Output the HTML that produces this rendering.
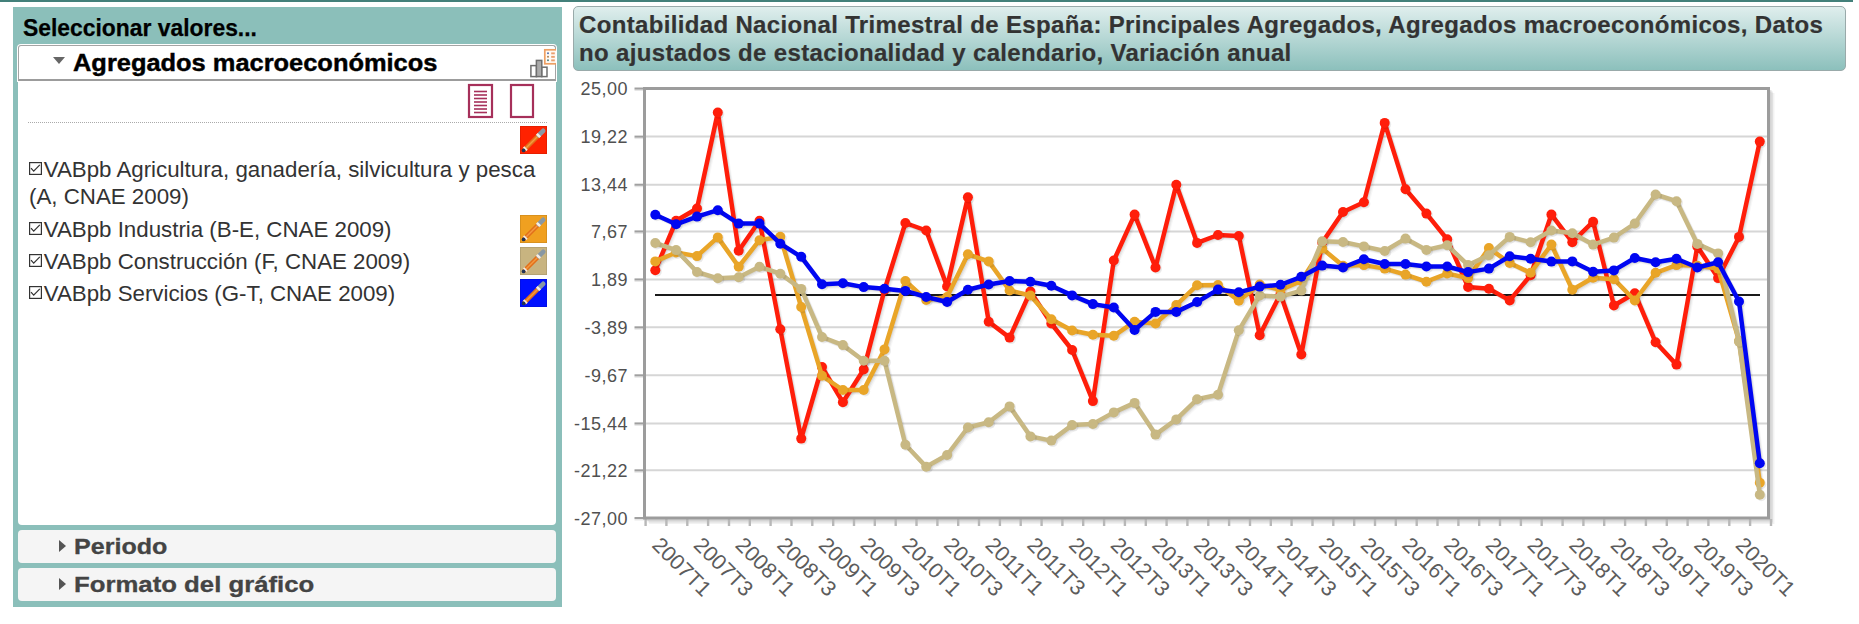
<!DOCTYPE html>
<html><head><meta charset="utf-8">
<style>
*{margin:0;padding:0;box-sizing:border-box}
html,body{width:1859px;height:624px;overflow:hidden;background:#fff;font-family:"Liberation Sans",sans-serif}
.a{position:absolute}
.item{position:absolute;left:29px;font-size:22.3px;color:#333;line-height:27px;white-space:nowrap;text-indent:14.7px}
.cb{position:absolute;left:0;top:5.5px;width:13px;height:13px}
.pen{position:absolute;left:520px;width:27px;height:28px}
.acc{position:absolute;left:18px;width:538px;height:33px;background:#f5f5f5;border-radius:4px}
.acc span{position:absolute;left:56px;top:4px;font-size:22px;font-weight:bold;color:#444;white-space:nowrap;transform-origin:0 0;-webkit-text-stroke:0.3px #444}
.tri{position:absolute;left:40.8px;top:10px;width:0;height:0;border-top:6px solid transparent;border-bottom:6px solid transparent;border-left:7px solid #555}
</style></head><body>
<div class="a" style="left:0;top:0;width:1853px;height:2px;background:#43807a"></div>
<div class="a" style="left:13px;top:7px;width:549px;height:600px;background:#8bbfba"></div>
<div class="a" style="left:23.2px;top:13.7px;font-size:24px;font-weight:bold;color:#000;white-space:nowrap;transform:scaleX(0.953);transform-origin:0 0;-webkit-text-stroke:0.25px #000">Seleccionar valores...</div>
<div class="a" style="left:18px;top:45px;width:538px;height:479.5px;background:#fff;border-radius:0 0 4px 4px"></div>
<div class="a" style="left:18px;top:45px;width:538px;height:36px;background:#fff;border:1px solid #a4a4a4;border-bottom:2px solid #9c9c9c;border-radius:3px 3px 0 0;box-shadow:0 0 0 1px #fff"></div>
<div class="a" style="left:53px;top:57px;width:0;height:0;border-left:6px solid transparent;border-right:6px solid transparent;border-top:7px solid #666"></div>
<div class="a" style="left:73px;top:50px;font-size:23px;font-weight:bold;color:#000;white-space:nowrap;transform:scaleX(1.105);transform-origin:0 0;-webkit-text-stroke:0.4px #000">Agregados macroeconómicos</div>
<svg class="a" style="left:525px;top:44px" width="30.6" height="36" viewBox="0 0 30.6 36">
<rect x="5.9" y="21.6" width="5.6" height="11" fill="#fff" stroke="#6e6e6e" stroke-width="1.5"/>
<rect x="16.6" y="23.2" width="5.4" height="9.4" fill="#fff" stroke="#6e6e6e" stroke-width="1.5"/>
<rect x="11.4" y="16.4" width="5.4" height="16.2" fill="#ababab" stroke="#6e6e6e" stroke-width="1.5"/>
<rect x="19.8" y="5.8" width="14" height="14" fill="#fffaf4" stroke="#eea064" stroke-width="1.7"/>
<circle cx="23" cy="9.3" r="1" fill="#5070b0"/><rect x="26.2" y="8.4" width="3.6" height="1.9" fill="#eaa070"/>
<circle cx="23" cy="12.8" r="1" fill="#b08050"/><rect x="26.2" y="11.9" width="3.6" height="1.9" fill="#eaa070"/>
<circle cx="23" cy="16.3" r="1" fill="#508080"/><rect x="26.2" y="15.4" width="3.6" height="1.9" fill="#eaa070"/>
</svg>
<svg class="a" style="left:467px;top:83px" width="70" height="37" viewBox="0 0 70 37">
<rect x="2" y="2" width="23" height="32" fill="#fff" stroke="#a6305a" stroke-width="2.2"/>
<g stroke="#a6305a" stroke-width="1.6">
<line x1="7" y1="8.5" x2="20" y2="8.5"/><line x1="7" y1="12" x2="20" y2="12"/><line x1="7" y1="15.5" x2="20" y2="15.5"/>
<line x1="7" y1="19" x2="20" y2="19"/><line x1="7" y1="22.5" x2="20" y2="22.5"/><line x1="7" y1="26" x2="20" y2="26"/><line x1="7" y1="29.5" x2="20" y2="29.5"/>
</g>
<rect x="44" y="2" width="22" height="32" fill="#fff" stroke="#a6305a" stroke-width="2.2"/>
</svg>
<div class="a" style="left:28px;top:122px;width:519px;height:0;border-top:1px dotted #aaa"></div>
<div class="pen" style="top:126px"><svg width="27" height="28" viewBox="0 0 27 28"><rect width="27" height="28" fill="#ff2200"/>
<rect x="0.4" y="0.4" width="26.2" height="27.2" fill="none" stroke="rgba(0,0,0,0.12)" stroke-width="0.8"/>
<path d="M4 24 L19 9" stroke="#e2701a" stroke-width="4.4"/>
<path d="M5 23 L18 10" stroke="#f49a40" stroke-width="1.4"/>
<path d="M18.8 9.2 L23.2 4.8" stroke="#8898a4" stroke-width="4.6" stroke-linecap="round"/>
<path d="M17.6 10.4 L19.4 8.6" stroke="#f6eee4" stroke-width="4.8"/>
<path d="M4.6 23.4 L6 22" stroke="#f6eee4" stroke-width="4.8"/>
<circle cx="3.6" cy="24.4" r="1.9" fill="#223355"/>
</svg></div>
<div class="item" style="top:156px;width:520px;white-space:normal"><svg class="cb" width="13" height="13" viewBox="0 0 13 13"><rect x="0.6" y="0.6" width="11.8" height="11.8" fill="none" stroke="#333" stroke-width="1.2"/><path d="M2 6.2 L4.7 9.2 L10.8 2.9" fill="none" stroke="#333" stroke-width="1.2"/></svg>VABpb Agricultura, ganadería, silvicultura y pesca (A, CNAE 2009)</div>
<div class="item" style="top:216px"><svg class="cb" width="13" height="13" viewBox="0 0 13 13"><rect x="0.6" y="0.6" width="11.8" height="11.8" fill="none" stroke="#333" stroke-width="1.2"/><path d="M2 6.2 L4.7 9.2 L10.8 2.9" fill="none" stroke="#333" stroke-width="1.2"/></svg>VABpb Industria (B-E, CNAE 2009)</div>
<div class="pen" style="top:215px"><svg width="27" height="28" viewBox="0 0 27 28"><rect width="27" height="28" fill="#f0a020"/>
<rect x="0.4" y="0.4" width="26.2" height="27.2" fill="none" stroke="rgba(0,0,0,0.12)" stroke-width="0.8"/>
<path d="M4 24 L19 9" stroke="#e2701a" stroke-width="4.4"/>
<path d="M5 23 L18 10" stroke="#f49a40" stroke-width="1.4"/>
<path d="M18.8 9.2 L23.2 4.8" stroke="#8898a4" stroke-width="4.6" stroke-linecap="round"/>
<path d="M17.6 10.4 L19.4 8.6" stroke="#f6eee4" stroke-width="4.8"/>
<path d="M4.6 23.4 L6 22" stroke="#f6eee4" stroke-width="4.8"/>
<circle cx="3.6" cy="24.4" r="1.9" fill="#223355"/>
</svg></div>
<div class="item" style="top:248px"><svg class="cb" width="13" height="13" viewBox="0 0 13 13"><rect x="0.6" y="0.6" width="11.8" height="11.8" fill="none" stroke="#333" stroke-width="1.2"/><path d="M2 6.2 L4.7 9.2 L10.8 2.9" fill="none" stroke="#333" stroke-width="1.2"/></svg>VABpb Construcción (F, CNAE 2009)</div>
<div class="pen" style="top:247px"><svg width="27" height="28" viewBox="0 0 27 28"><rect width="27" height="28" fill="#c8b480"/>
<rect x="0.4" y="0.4" width="26.2" height="27.2" fill="none" stroke="rgba(0,0,0,0.12)" stroke-width="0.8"/>
<path d="M4 24 L19 9" stroke="#e2701a" stroke-width="4.4"/>
<path d="M5 23 L18 10" stroke="#f49a40" stroke-width="1.4"/>
<path d="M18.8 9.2 L23.2 4.8" stroke="#8898a4" stroke-width="4.6" stroke-linecap="round"/>
<path d="M17.6 10.4 L19.4 8.6" stroke="#f6eee4" stroke-width="4.8"/>
<path d="M4.6 23.4 L6 22" stroke="#f6eee4" stroke-width="4.8"/>
<circle cx="3.6" cy="24.4" r="1.9" fill="#223355"/>
</svg></div>
<div class="item" style="top:280px"><svg class="cb" width="13" height="13" viewBox="0 0 13 13"><rect x="0.6" y="0.6" width="11.8" height="11.8" fill="none" stroke="#333" stroke-width="1.2"/><path d="M2 6.2 L4.7 9.2 L10.8 2.9" fill="none" stroke="#333" stroke-width="1.2"/></svg>VABpb Servicios (G-T, CNAE 2009)</div>
<div class="pen" style="top:279px"><svg width="27" height="28" viewBox="0 0 27 28"><rect width="27" height="28" fill="#0010ff"/>
<rect x="0.4" y="0.4" width="26.2" height="27.2" fill="none" stroke="rgba(0,0,0,0.12)" stroke-width="0.8"/>
<path d="M4 24 L19 9" stroke="#e2701a" stroke-width="4.4"/>
<path d="M5 23 L18 10" stroke="#f49a40" stroke-width="1.4"/>
<path d="M18.8 9.2 L23.2 4.8" stroke="#8898a4" stroke-width="4.6" stroke-linecap="round"/>
<path d="M17.6 10.4 L19.4 8.6" stroke="#f6eee4" stroke-width="4.8"/>
<path d="M4.6 23.4 L6 22" stroke="#f6eee4" stroke-width="4.8"/>
<circle cx="3.6" cy="24.4" r="1.9" fill="#223355"/>
</svg></div>
<div class="acc" style="top:530px"><div class="tri"></div><span style="transform:scaleX(1.14)">Periodo</span></div>
<div class="acc" style="top:568px"><div class="tri"></div><span style="transform:scaleX(1.17)">Formato del gráfico</span></div>
<div class="a" style="left:573px;top:6px;width:1273px;height:64.5px;border:1px solid #9aa;border-radius:5px;background:linear-gradient(#dfeeed,#8cc0bc)"></div>
<div class="a" style="left:579px;top:10.8px;font-size:24px;font-weight:bold;color:#333;line-height:28.4px;letter-spacing:0.34px;white-space:nowrap;-webkit-text-stroke:0.2px #333">Contabilidad Nacional Trimestral de España: Principales Agregados, Agregados macroeconómicos, Datos<br>no ajustados de estacionalidad y calendario, Variación anual</div>
<svg class="a" style="left:0;top:0" width="1859" height="624" font-family="Liberation Sans, sans-serif">
<polyline points="646.0,519.5 1770.0,519.5 1770.0,90.0" fill="none" stroke="rgba(0,0,0,0.1)" stroke-width="3"/>
<polyline points="647.5,521.0 1771.5,521.0 1771.5,91.5" fill="none" stroke="rgba(0,0,0,0.07)" stroke-width="3"/>
<polyline points="649.0,522.5 1773.0,522.5 1773.0,93.0" fill="none" stroke="rgba(0,0,0,0.05)" stroke-width="3"/>
<line x1="634.5" y1="90.0" x2="644.5" y2="90.0" stroke="#e6e6e6" stroke-width="2"/>
<line x1="634.5" y1="88.5" x2="644.5" y2="88.5" stroke="#a0a0a0" stroke-width="2"/>
<text x="628" y="95.0" text-anchor="end" font-size="18" letter-spacing="0.5" fill="#505050">25,00</text>
<line x1="644.5" y1="136.6" x2="1768.5" y2="136.6" stroke="#d6d6d6" stroke-width="2"/>
<line x1="634.5" y1="138.1" x2="644.5" y2="138.1" stroke="#e6e6e6" stroke-width="2"/>
<line x1="634.5" y1="136.6" x2="644.5" y2="136.6" stroke="#a0a0a0" stroke-width="2"/>
<text x="628" y="143.1" text-anchor="end" font-size="18" letter-spacing="0.5" fill="#505050">19,22</text>
<line x1="644.5" y1="184.7" x2="1768.5" y2="184.7" stroke="#d6d6d6" stroke-width="2"/>
<line x1="634.5" y1="186.2" x2="644.5" y2="186.2" stroke="#e6e6e6" stroke-width="2"/>
<line x1="634.5" y1="184.7" x2="644.5" y2="184.7" stroke="#a0a0a0" stroke-width="2"/>
<text x="628" y="191.2" text-anchor="end" font-size="18" letter-spacing="0.5" fill="#505050">13,44</text>
<line x1="644.5" y1="231.4" x2="1768.5" y2="231.4" stroke="#d6d6d6" stroke-width="2"/>
<line x1="634.5" y1="232.9" x2="644.5" y2="232.9" stroke="#e6e6e6" stroke-width="2"/>
<line x1="634.5" y1="231.4" x2="644.5" y2="231.4" stroke="#a0a0a0" stroke-width="2"/>
<text x="628" y="237.9" text-anchor="end" font-size="18" letter-spacing="0.5" fill="#505050">7,67</text>
<line x1="644.5" y1="279.4" x2="1768.5" y2="279.4" stroke="#d6d6d6" stroke-width="2"/>
<line x1="634.5" y1="280.9" x2="644.5" y2="280.9" stroke="#e6e6e6" stroke-width="2"/>
<line x1="634.5" y1="279.4" x2="644.5" y2="279.4" stroke="#a0a0a0" stroke-width="2"/>
<text x="628" y="285.9" text-anchor="end" font-size="18" letter-spacing="0.5" fill="#505050">1,89</text>
<line x1="644.5" y1="327.3" x2="1768.5" y2="327.3" stroke="#d6d6d6" stroke-width="2"/>
<line x1="634.5" y1="328.8" x2="644.5" y2="328.8" stroke="#e6e6e6" stroke-width="2"/>
<line x1="634.5" y1="327.3" x2="644.5" y2="327.3" stroke="#a0a0a0" stroke-width="2"/>
<text x="628" y="333.8" text-anchor="end" font-size="18" letter-spacing="0.5" fill="#505050">-3,89</text>
<line x1="644.5" y1="375.3" x2="1768.5" y2="375.3" stroke="#d6d6d6" stroke-width="2"/>
<line x1="634.5" y1="376.8" x2="644.5" y2="376.8" stroke="#e6e6e6" stroke-width="2"/>
<line x1="634.5" y1="375.3" x2="644.5" y2="375.3" stroke="#a0a0a0" stroke-width="2"/>
<text x="628" y="381.8" text-anchor="end" font-size="18" letter-spacing="0.5" fill="#505050">-9,67</text>
<line x1="644.5" y1="423.4" x2="1768.5" y2="423.4" stroke="#d6d6d6" stroke-width="2"/>
<line x1="634.5" y1="424.9" x2="644.5" y2="424.9" stroke="#e6e6e6" stroke-width="2"/>
<line x1="634.5" y1="423.4" x2="644.5" y2="423.4" stroke="#a0a0a0" stroke-width="2"/>
<text x="628" y="429.9" text-anchor="end" font-size="18" letter-spacing="0.5" fill="#505050">-15,44</text>
<line x1="644.5" y1="470.3" x2="1768.5" y2="470.3" stroke="#d6d6d6" stroke-width="2"/>
<line x1="634.5" y1="471.8" x2="644.5" y2="471.8" stroke="#e6e6e6" stroke-width="2"/>
<line x1="634.5" y1="470.3" x2="644.5" y2="470.3" stroke="#a0a0a0" stroke-width="2"/>
<text x="628" y="476.8" text-anchor="end" font-size="18" letter-spacing="0.5" fill="#505050">-21,22</text>
<line x1="634.5" y1="519.5" x2="644.5" y2="519.5" stroke="#e6e6e6" stroke-width="2"/>
<line x1="634.5" y1="518.0" x2="644.5" y2="518.0" stroke="#a0a0a0" stroke-width="2"/>
<text x="628" y="524.5" text-anchor="end" font-size="18" letter-spacing="0.5" fill="#505050">-27,00</text>
<line x1="645.6" y1="519" x2="645.6" y2="526" stroke="#b8b8b8" stroke-width="2.4"/>
<line x1="666.4" y1="519" x2="666.4" y2="526" stroke="#b8b8b8" stroke-width="2.4"/>
<line x1="687.3" y1="519" x2="687.3" y2="526" stroke="#b8b8b8" stroke-width="2.4"/>
<line x1="708.1" y1="519" x2="708.1" y2="526" stroke="#b8b8b8" stroke-width="2.4"/>
<line x1="729.0" y1="519" x2="729.0" y2="526" stroke="#b8b8b8" stroke-width="2.4"/>
<line x1="749.8" y1="519" x2="749.8" y2="526" stroke="#b8b8b8" stroke-width="2.4"/>
<line x1="770.6" y1="519" x2="770.6" y2="526" stroke="#b8b8b8" stroke-width="2.4"/>
<line x1="791.5" y1="519" x2="791.5" y2="526" stroke="#b8b8b8" stroke-width="2.4"/>
<line x1="812.3" y1="519" x2="812.3" y2="526" stroke="#b8b8b8" stroke-width="2.4"/>
<line x1="833.2" y1="519" x2="833.2" y2="526" stroke="#b8b8b8" stroke-width="2.4"/>
<line x1="854.0" y1="519" x2="854.0" y2="526" stroke="#b8b8b8" stroke-width="2.4"/>
<line x1="874.8" y1="519" x2="874.8" y2="526" stroke="#b8b8b8" stroke-width="2.4"/>
<line x1="895.7" y1="519" x2="895.7" y2="526" stroke="#b8b8b8" stroke-width="2.4"/>
<line x1="916.5" y1="519" x2="916.5" y2="526" stroke="#b8b8b8" stroke-width="2.4"/>
<line x1="937.4" y1="519" x2="937.4" y2="526" stroke="#b8b8b8" stroke-width="2.4"/>
<line x1="958.2" y1="519" x2="958.2" y2="526" stroke="#b8b8b8" stroke-width="2.4"/>
<line x1="979.0" y1="519" x2="979.0" y2="526" stroke="#b8b8b8" stroke-width="2.4"/>
<line x1="999.9" y1="519" x2="999.9" y2="526" stroke="#b8b8b8" stroke-width="2.4"/>
<line x1="1020.7" y1="519" x2="1020.7" y2="526" stroke="#b8b8b8" stroke-width="2.4"/>
<line x1="1041.6" y1="519" x2="1041.6" y2="526" stroke="#b8b8b8" stroke-width="2.4"/>
<line x1="1062.4" y1="519" x2="1062.4" y2="526" stroke="#b8b8b8" stroke-width="2.4"/>
<line x1="1083.2" y1="519" x2="1083.2" y2="526" stroke="#b8b8b8" stroke-width="2.4"/>
<line x1="1104.1" y1="519" x2="1104.1" y2="526" stroke="#b8b8b8" stroke-width="2.4"/>
<line x1="1124.9" y1="519" x2="1124.9" y2="526" stroke="#b8b8b8" stroke-width="2.4"/>
<line x1="1145.8" y1="519" x2="1145.8" y2="526" stroke="#b8b8b8" stroke-width="2.4"/>
<line x1="1166.6" y1="519" x2="1166.6" y2="526" stroke="#b8b8b8" stroke-width="2.4"/>
<line x1="1187.4" y1="519" x2="1187.4" y2="526" stroke="#b8b8b8" stroke-width="2.4"/>
<line x1="1208.3" y1="519" x2="1208.3" y2="526" stroke="#b8b8b8" stroke-width="2.4"/>
<line x1="1229.1" y1="519" x2="1229.1" y2="526" stroke="#b8b8b8" stroke-width="2.4"/>
<line x1="1250.0" y1="519" x2="1250.0" y2="526" stroke="#b8b8b8" stroke-width="2.4"/>
<line x1="1270.8" y1="519" x2="1270.8" y2="526" stroke="#b8b8b8" stroke-width="2.4"/>
<line x1="1291.6" y1="519" x2="1291.6" y2="526" stroke="#b8b8b8" stroke-width="2.4"/>
<line x1="1312.5" y1="519" x2="1312.5" y2="526" stroke="#b8b8b8" stroke-width="2.4"/>
<line x1="1333.3" y1="519" x2="1333.3" y2="526" stroke="#b8b8b8" stroke-width="2.4"/>
<line x1="1354.2" y1="519" x2="1354.2" y2="526" stroke="#b8b8b8" stroke-width="2.4"/>
<line x1="1375.0" y1="519" x2="1375.0" y2="526" stroke="#b8b8b8" stroke-width="2.4"/>
<line x1="1395.8" y1="519" x2="1395.8" y2="526" stroke="#b8b8b8" stroke-width="2.4"/>
<line x1="1416.7" y1="519" x2="1416.7" y2="526" stroke="#b8b8b8" stroke-width="2.4"/>
<line x1="1437.5" y1="519" x2="1437.5" y2="526" stroke="#b8b8b8" stroke-width="2.4"/>
<line x1="1458.4" y1="519" x2="1458.4" y2="526" stroke="#b8b8b8" stroke-width="2.4"/>
<line x1="1479.2" y1="519" x2="1479.2" y2="526" stroke="#b8b8b8" stroke-width="2.4"/>
<line x1="1500.0" y1="519" x2="1500.0" y2="526" stroke="#b8b8b8" stroke-width="2.4"/>
<line x1="1520.9" y1="519" x2="1520.9" y2="526" stroke="#b8b8b8" stroke-width="2.4"/>
<line x1="1541.7" y1="519" x2="1541.7" y2="526" stroke="#b8b8b8" stroke-width="2.4"/>
<line x1="1562.6" y1="519" x2="1562.6" y2="526" stroke="#b8b8b8" stroke-width="2.4"/>
<line x1="1583.4" y1="519" x2="1583.4" y2="526" stroke="#b8b8b8" stroke-width="2.4"/>
<line x1="1604.2" y1="519" x2="1604.2" y2="526" stroke="#b8b8b8" stroke-width="2.4"/>
<line x1="1625.1" y1="519" x2="1625.1" y2="526" stroke="#b8b8b8" stroke-width="2.4"/>
<line x1="1645.9" y1="519" x2="1645.9" y2="526" stroke="#b8b8b8" stroke-width="2.4"/>
<line x1="1666.8" y1="519" x2="1666.8" y2="526" stroke="#b8b8b8" stroke-width="2.4"/>
<line x1="1687.6" y1="519" x2="1687.6" y2="526" stroke="#b8b8b8" stroke-width="2.4"/>
<line x1="1708.4" y1="519" x2="1708.4" y2="526" stroke="#b8b8b8" stroke-width="2.4"/>
<line x1="1729.3" y1="519" x2="1729.3" y2="526" stroke="#b8b8b8" stroke-width="2.4"/>
<line x1="1750.1" y1="519" x2="1750.1" y2="526" stroke="#b8b8b8" stroke-width="2.4"/>
<line x1="1771.0" y1="519" x2="1771.0" y2="526" stroke="#b8b8b8" stroke-width="2.4"/>
<rect x="644.5" y="88.5" width="1124.0" height="429.5" fill="none" stroke="#9c9c9c" stroke-width="3"/>
<line x1="655" y1="295.0" x2="1760" y2="295.0" stroke="#1a1a1a" stroke-width="2"/>
<polyline points="656.3,271.2 677.1,221.8 698.0,209.5 718.8,113.5 739.7,251.8 760.5,221.8 781.3,330.3 802.2,439.6 823.0,368.0 843.9,403.3 864.7,370.5 885.5,291.0 906.4,224.0 927.2,231.5 948.1,287.5 968.9,198.2 989.7,322.7 1010.6,338.6 1031.4,292.5 1052.3,324.5 1073.1,351.0 1093.9,402.1 1114.8,261.5 1135.6,215.6 1156.5,268.5 1177.3,185.7 1198.1,243.9 1219.0,236.0 1239.8,237.0 1260.7,336.2 1281.5,295.0 1302.3,355.5 1323.2,243.5 1344.0,213.0 1364.9,203.3 1385.7,123.9 1406.5,190.2 1427.4,214.6 1448.2,240.3 1469.1,288.0 1489.9,289.7 1510.7,301.4 1531.6,276.3 1552.4,215.6 1573.3,243.2 1594.1,222.7 1614.9,306.5 1635.8,294.3 1656.6,343.3 1677.5,365.6 1698.3,247.4 1719.1,279.1 1740.0,237.9 1760.8,142.6" fill="none" stroke="rgba(0,0,0,0.07)" stroke-width="4" stroke-linejoin="round"/>
<polyline points="657.3,272.2 678.1,222.8 699.0,210.5 719.8,114.5 740.7,252.8 761.5,222.8 782.3,331.3 803.2,440.6 824.0,369.0 844.9,404.3 865.7,371.5 886.5,292.0 907.4,225.0 928.2,232.5 949.1,288.5 969.9,199.2 990.7,323.7 1011.6,339.6 1032.4,293.5 1053.3,325.5 1074.1,352.0 1094.9,403.1 1115.8,262.5 1136.6,216.6 1157.5,269.5 1178.3,186.7 1199.1,244.9 1220.0,237.0 1240.8,238.0 1261.7,337.2 1282.5,296.0 1303.3,356.5 1324.2,244.5 1345.0,214.0 1365.9,204.3 1386.7,124.9 1407.5,191.2 1428.4,215.6 1449.2,241.3 1470.1,289.0 1490.9,290.7 1511.7,302.4 1532.6,277.3 1553.4,216.6 1574.3,244.2 1595.1,223.7 1615.9,307.5 1636.8,295.3 1657.6,344.3 1678.5,366.6 1699.3,248.4 1720.1,280.1 1741.0,238.9 1761.8,143.6" fill="none" stroke="rgba(0,0,0,0.05)" stroke-width="4" stroke-linejoin="round"/>
<polyline points="658.3,273.2 679.1,223.8 700.0,211.5 720.8,115.5 741.7,253.8 762.5,223.8 783.3,332.3 804.2,441.6 825.0,370.0 845.9,405.3 866.7,372.5 887.5,293.0 908.4,226.0 929.2,233.5 950.1,289.5 970.9,200.2 991.7,324.7 1012.6,340.6 1033.4,294.5 1054.3,326.5 1075.1,353.0 1095.9,404.1 1116.8,263.5 1137.6,217.6 1158.5,270.5 1179.3,187.7 1200.1,245.9 1221.0,238.0 1241.8,239.0 1262.7,338.2 1283.5,297.0 1304.3,357.5 1325.2,245.5 1346.0,215.0 1366.9,205.3 1387.7,125.9 1408.5,192.2 1429.4,216.6 1450.2,242.3 1471.1,290.0 1491.9,291.7 1512.7,303.4 1533.6,278.3 1554.4,217.6 1575.3,245.2 1596.1,224.7 1616.9,308.5 1637.8,296.3 1658.6,345.3 1679.5,367.6 1700.3,249.4 1721.1,281.1 1742.0,239.9 1762.8,144.6" fill="none" stroke="rgba(0,0,0,0.03)" stroke-width="4" stroke-linejoin="round"/>
<polyline points="656.3,262.4 677.1,253.5 698.0,257.1 718.8,238.4 739.7,267.7 760.5,241.2 781.3,237.7 802.2,308.0 823.0,376.8 843.9,391.0 864.7,391.0 885.5,350.4 906.4,282.0 927.2,301.0 948.1,298.0 968.9,255.3 989.7,262.4 1010.6,291.5 1031.4,296.5 1052.3,320.3 1073.1,331.5 1093.9,335.8 1114.8,336.8 1135.6,322.7 1156.5,324.5 1177.3,306.1 1198.1,286.2 1219.0,286.0 1239.8,301.8 1260.7,285.5 1281.5,291.0 1302.3,282.0 1323.2,249.5 1344.0,266.8 1364.9,266.1 1385.7,269.6 1406.5,275.6 1427.4,282.7 1448.2,274.5 1469.1,279.1 1489.9,249.1 1510.7,264.0 1531.6,273.8 1552.4,245.6 1573.3,290.8 1594.1,278.8 1614.9,280.2 1635.8,301.5 1656.6,273.8 1677.5,266.1 1698.3,266.8 1719.1,269.6 1740.0,342.0 1760.8,483.7" fill="none" stroke="rgba(0,0,0,0.07)" stroke-width="4" stroke-linejoin="round"/>
<polyline points="657.3,263.4 678.1,254.5 699.0,258.1 719.8,239.4 740.7,268.7 761.5,242.2 782.3,238.7 803.2,309.0 824.0,377.8 844.9,392.0 865.7,392.0 886.5,351.4 907.4,283.0 928.2,302.0 949.1,299.0 969.9,256.3 990.7,263.4 1011.6,292.5 1032.4,297.5 1053.3,321.3 1074.1,332.5 1094.9,336.8 1115.8,337.8 1136.6,323.7 1157.5,325.5 1178.3,307.1 1199.1,287.2 1220.0,287.0 1240.8,302.8 1261.7,286.5 1282.5,292.0 1303.3,283.0 1324.2,250.5 1345.0,267.8 1365.9,267.1 1386.7,270.6 1407.5,276.6 1428.4,283.7 1449.2,275.5 1470.1,280.1 1490.9,250.1 1511.7,265.0 1532.6,274.8 1553.4,246.6 1574.3,291.8 1595.1,279.8 1615.9,281.2 1636.8,302.5 1657.6,274.8 1678.5,267.1 1699.3,267.8 1720.1,270.6 1741.0,343.0 1761.8,484.7" fill="none" stroke="rgba(0,0,0,0.05)" stroke-width="4" stroke-linejoin="round"/>
<polyline points="658.3,264.4 679.1,255.5 700.0,259.1 720.8,240.4 741.7,269.7 762.5,243.2 783.3,239.7 804.2,310.0 825.0,378.8 845.9,393.0 866.7,393.0 887.5,352.4 908.4,284.0 929.2,303.0 950.1,300.0 970.9,257.3 991.7,264.4 1012.6,293.5 1033.4,298.5 1054.3,322.3 1075.1,333.5 1095.9,337.8 1116.8,338.8 1137.6,324.7 1158.5,326.5 1179.3,308.1 1200.1,288.2 1221.0,288.0 1241.8,303.8 1262.7,287.5 1283.5,293.0 1304.3,284.0 1325.2,251.5 1346.0,268.8 1366.9,268.1 1387.7,271.6 1408.5,277.6 1429.4,284.7 1450.2,276.5 1471.1,281.1 1491.9,251.1 1512.7,266.0 1533.6,275.8 1554.4,247.6 1575.3,292.8 1596.1,280.8 1616.9,282.2 1637.8,303.5 1658.6,275.8 1679.5,268.1 1700.3,268.8 1721.1,271.6 1742.0,344.0 1762.8,485.7" fill="none" stroke="rgba(0,0,0,0.03)" stroke-width="4" stroke-linejoin="round"/>
<polyline points="656.3,244.0 677.1,251.1 698.0,273.0 718.8,279.3 739.7,278.2 760.5,267.7 781.3,274.7 802.2,289.9 823.0,338.0 843.9,346.1 864.7,361.7 885.5,361.7 906.4,445.7 927.2,467.8 948.1,456.0 968.9,428.5 989.7,423.3 1010.6,407.4 1031.4,437.4 1052.3,441.6 1073.1,426.1 1093.9,425.0 1114.8,413.4 1135.6,403.9 1156.5,435.6 1177.3,420.4 1198.1,400.3 1219.0,395.7 1239.8,331.3 1260.7,296.5 1281.5,297.7 1302.3,291.6 1323.2,242.2 1344.0,243.0 1364.9,247.4 1385.7,252.0 1406.5,239.6 1427.4,250.9 1448.2,246.3 1469.1,266.1 1489.9,256.2 1510.7,237.9 1531.6,243.2 1552.4,231.5 1573.3,234.3 1594.1,245.6 1614.9,238.6 1635.8,224.5 1656.6,195.5 1677.5,202.2 1698.3,244.9 1719.1,254.4 1740.0,342.6 1760.8,495.7" fill="none" stroke="rgba(0,0,0,0.07)" stroke-width="4" stroke-linejoin="round"/>
<polyline points="657.3,245.0 678.1,252.1 699.0,274.0 719.8,280.3 740.7,279.2 761.5,268.7 782.3,275.7 803.2,290.9 824.0,339.0 844.9,347.1 865.7,362.7 886.5,362.7 907.4,446.7 928.2,468.8 949.1,457.0 969.9,429.5 990.7,424.3 1011.6,408.4 1032.4,438.4 1053.3,442.6 1074.1,427.1 1094.9,426.0 1115.8,414.4 1136.6,404.9 1157.5,436.6 1178.3,421.4 1199.1,401.3 1220.0,396.7 1240.8,332.3 1261.7,297.5 1282.5,298.7 1303.3,292.6 1324.2,243.2 1345.0,244.0 1365.9,248.4 1386.7,253.0 1407.5,240.6 1428.4,251.9 1449.2,247.3 1470.1,267.1 1490.9,257.2 1511.7,238.9 1532.6,244.2 1553.4,232.5 1574.3,235.3 1595.1,246.6 1615.9,239.6 1636.8,225.5 1657.6,196.5 1678.5,203.2 1699.3,245.9 1720.1,255.4 1741.0,343.6 1761.8,496.7" fill="none" stroke="rgba(0,0,0,0.05)" stroke-width="4" stroke-linejoin="round"/>
<polyline points="658.3,246.0 679.1,253.1 700.0,275.0 720.8,281.3 741.7,280.2 762.5,269.7 783.3,276.7 804.2,291.9 825.0,340.0 845.9,348.1 866.7,363.7 887.5,363.7 908.4,447.7 929.2,469.8 950.1,458.0 970.9,430.5 991.7,425.3 1012.6,409.4 1033.4,439.4 1054.3,443.6 1075.1,428.1 1095.9,427.0 1116.8,415.4 1137.6,405.9 1158.5,437.6 1179.3,422.4 1200.1,402.3 1221.0,397.7 1241.8,333.3 1262.7,298.5 1283.5,299.7 1304.3,293.6 1325.2,244.2 1346.0,245.0 1366.9,249.4 1387.7,254.0 1408.5,241.6 1429.4,252.9 1450.2,248.3 1471.1,268.1 1491.9,258.2 1512.7,239.9 1533.6,245.2 1554.4,233.5 1575.3,236.3 1596.1,247.6 1616.9,240.6 1637.8,226.5 1658.6,197.5 1679.5,204.2 1700.3,246.9 1721.1,256.4 1742.0,344.6 1762.8,497.7" fill="none" stroke="rgba(0,0,0,0.03)" stroke-width="4" stroke-linejoin="round"/>
<polyline points="656.3,215.8 677.1,225.3 698.0,217.6 718.8,211.2 739.7,224.6 760.5,224.6 781.3,244.7 802.2,257.8 823.0,285.3 843.9,284.3 864.7,288.1 885.5,289.8 906.4,291.9 927.2,298.0 948.1,303.0 968.9,290.8 989.7,285.5 1010.6,282.0 1031.4,282.7 1052.3,286.8 1073.1,296.4 1093.9,305.1 1114.8,308.5 1135.6,331.0 1156.5,312.9 1177.3,312.9 1198.1,303.0 1219.0,290.6 1239.8,293.3 1260.7,287.6 1281.5,285.8 1302.3,277.8 1323.2,266.6 1344.0,268.5 1364.9,260.2 1385.7,265.0 1406.5,265.0 1427.4,267.5 1448.2,267.5 1469.1,273.1 1489.9,269.6 1510.7,257.3 1531.6,259.7 1552.4,262.6 1573.3,262.4 1594.1,272.8 1614.9,271.4 1635.8,259.0 1656.6,263.3 1677.5,259.7 1698.3,268.5 1719.1,263.3 1740.0,302.5 1760.8,464.3" fill="none" stroke="rgba(0,0,0,0.07)" stroke-width="4" stroke-linejoin="round"/>
<polyline points="657.3,216.8 678.1,226.3 699.0,218.6 719.8,212.2 740.7,225.6 761.5,225.6 782.3,245.7 803.2,258.8 824.0,286.3 844.9,285.3 865.7,289.1 886.5,290.8 907.4,292.9 928.2,299.0 949.1,304.0 969.9,291.8 990.7,286.5 1011.6,283.0 1032.4,283.7 1053.3,287.8 1074.1,297.4 1094.9,306.1 1115.8,309.5 1136.6,332.0 1157.5,313.9 1178.3,313.9 1199.1,304.0 1220.0,291.6 1240.8,294.3 1261.7,288.6 1282.5,286.8 1303.3,278.8 1324.2,267.6 1345.0,269.5 1365.9,261.2 1386.7,266.0 1407.5,266.0 1428.4,268.5 1449.2,268.5 1470.1,274.1 1490.9,270.6 1511.7,258.3 1532.6,260.7 1553.4,263.6 1574.3,263.4 1595.1,273.8 1615.9,272.4 1636.8,260.0 1657.6,264.3 1678.5,260.7 1699.3,269.5 1720.1,264.3 1741.0,303.5 1761.8,465.3" fill="none" stroke="rgba(0,0,0,0.05)" stroke-width="4" stroke-linejoin="round"/>
<polyline points="658.3,217.8 679.1,227.3 700.0,219.6 720.8,213.2 741.7,226.6 762.5,226.6 783.3,246.7 804.2,259.8 825.0,287.3 845.9,286.3 866.7,290.1 887.5,291.8 908.4,293.9 929.2,300.0 950.1,305.0 970.9,292.8 991.7,287.5 1012.6,284.0 1033.4,284.7 1054.3,288.8 1075.1,298.4 1095.9,307.1 1116.8,310.5 1137.6,333.0 1158.5,314.9 1179.3,314.9 1200.1,305.0 1221.0,292.6 1241.8,295.3 1262.7,289.6 1283.5,287.8 1304.3,279.8 1325.2,268.6 1346.0,270.5 1366.9,262.2 1387.7,267.0 1408.5,267.0 1429.4,269.5 1450.2,269.5 1471.1,275.1 1491.9,271.6 1512.7,259.3 1533.6,261.7 1554.4,264.6 1575.3,264.4 1596.1,274.8 1616.9,273.4 1637.8,261.0 1658.6,265.3 1679.5,261.7 1700.3,270.5 1721.1,265.3 1742.0,304.5 1762.8,466.3" fill="none" stroke="rgba(0,0,0,0.03)" stroke-width="4" stroke-linejoin="round"/>
<polyline points="655.3,270.2 676.1,220.8 697.0,208.5 717.8,112.5 738.7,250.8 759.5,220.8 780.3,329.3 801.2,438.6 822.0,367.0 842.9,402.3 863.7,369.5 884.5,290.0 905.4,223.0 926.2,230.5 947.1,286.5 967.9,197.2 988.7,321.7 1009.6,337.6 1030.4,291.5 1051.3,323.5 1072.1,350.0 1092.9,401.1 1113.8,260.5 1134.6,214.6 1155.5,267.5 1176.3,184.7 1197.1,242.9 1218.0,235.0 1238.8,236.0 1259.7,335.2 1280.5,294.0 1301.3,354.5 1322.2,242.5 1343.0,212.0 1363.9,202.3 1384.7,122.9 1405.5,189.2 1426.4,213.6 1447.2,239.3 1468.1,287.0 1488.9,288.7 1509.7,300.4 1530.6,275.3 1551.4,214.6 1572.3,242.2 1593.1,221.7 1613.9,305.5 1634.8,293.3 1655.6,342.3 1676.5,364.6 1697.3,246.4 1718.1,278.1 1739.0,236.9 1759.8,141.6" fill="none" stroke="#ff1e0a" stroke-width="4.5" stroke-linejoin="round"/>
<circle cx="656.8" cy="271.7" r="5" fill="rgba(0,0,0,0.08)"/>
<circle cx="655.3" cy="270.2" r="5" fill="#ff1e0a"/>
<circle cx="677.6" cy="222.3" r="5" fill="rgba(0,0,0,0.08)"/>
<circle cx="676.1" cy="220.8" r="5" fill="#ff1e0a"/>
<circle cx="698.5" cy="210.0" r="5" fill="rgba(0,0,0,0.08)"/>
<circle cx="697.0" cy="208.5" r="5" fill="#ff1e0a"/>
<circle cx="719.3" cy="114.0" r="5" fill="rgba(0,0,0,0.08)"/>
<circle cx="717.8" cy="112.5" r="5" fill="#ff1e0a"/>
<circle cx="740.2" cy="252.3" r="5" fill="rgba(0,0,0,0.08)"/>
<circle cx="738.7" cy="250.8" r="5" fill="#ff1e0a"/>
<circle cx="761.0" cy="222.3" r="5" fill="rgba(0,0,0,0.08)"/>
<circle cx="759.5" cy="220.8" r="5" fill="#ff1e0a"/>
<circle cx="781.8" cy="330.8" r="5" fill="rgba(0,0,0,0.08)"/>
<circle cx="780.3" cy="329.3" r="5" fill="#ff1e0a"/>
<circle cx="802.7" cy="440.1" r="5" fill="rgba(0,0,0,0.08)"/>
<circle cx="801.2" cy="438.6" r="5" fill="#ff1e0a"/>
<circle cx="823.5" cy="368.5" r="5" fill="rgba(0,0,0,0.08)"/>
<circle cx="822.0" cy="367.0" r="5" fill="#ff1e0a"/>
<circle cx="844.4" cy="403.8" r="5" fill="rgba(0,0,0,0.08)"/>
<circle cx="842.9" cy="402.3" r="5" fill="#ff1e0a"/>
<circle cx="865.2" cy="371.0" r="5" fill="rgba(0,0,0,0.08)"/>
<circle cx="863.7" cy="369.5" r="5" fill="#ff1e0a"/>
<circle cx="886.0" cy="291.5" r="5" fill="rgba(0,0,0,0.08)"/>
<circle cx="884.5" cy="290.0" r="5" fill="#ff1e0a"/>
<circle cx="906.9" cy="224.5" r="5" fill="rgba(0,0,0,0.08)"/>
<circle cx="905.4" cy="223.0" r="5" fill="#ff1e0a"/>
<circle cx="927.7" cy="232.0" r="5" fill="rgba(0,0,0,0.08)"/>
<circle cx="926.2" cy="230.5" r="5" fill="#ff1e0a"/>
<circle cx="948.6" cy="288.0" r="5" fill="rgba(0,0,0,0.08)"/>
<circle cx="947.1" cy="286.5" r="5" fill="#ff1e0a"/>
<circle cx="969.4" cy="198.7" r="5" fill="rgba(0,0,0,0.08)"/>
<circle cx="967.9" cy="197.2" r="5" fill="#ff1e0a"/>
<circle cx="990.2" cy="323.2" r="5" fill="rgba(0,0,0,0.08)"/>
<circle cx="988.7" cy="321.7" r="5" fill="#ff1e0a"/>
<circle cx="1011.1" cy="339.1" r="5" fill="rgba(0,0,0,0.08)"/>
<circle cx="1009.6" cy="337.6" r="5" fill="#ff1e0a"/>
<circle cx="1031.9" cy="293.0" r="5" fill="rgba(0,0,0,0.08)"/>
<circle cx="1030.4" cy="291.5" r="5" fill="#ff1e0a"/>
<circle cx="1052.8" cy="325.0" r="5" fill="rgba(0,0,0,0.08)"/>
<circle cx="1051.3" cy="323.5" r="5" fill="#ff1e0a"/>
<circle cx="1073.6" cy="351.5" r="5" fill="rgba(0,0,0,0.08)"/>
<circle cx="1072.1" cy="350.0" r="5" fill="#ff1e0a"/>
<circle cx="1094.4" cy="402.6" r="5" fill="rgba(0,0,0,0.08)"/>
<circle cx="1092.9" cy="401.1" r="5" fill="#ff1e0a"/>
<circle cx="1115.3" cy="262.0" r="5" fill="rgba(0,0,0,0.08)"/>
<circle cx="1113.8" cy="260.5" r="5" fill="#ff1e0a"/>
<circle cx="1136.1" cy="216.1" r="5" fill="rgba(0,0,0,0.08)"/>
<circle cx="1134.6" cy="214.6" r="5" fill="#ff1e0a"/>
<circle cx="1157.0" cy="269.0" r="5" fill="rgba(0,0,0,0.08)"/>
<circle cx="1155.5" cy="267.5" r="5" fill="#ff1e0a"/>
<circle cx="1177.8" cy="186.2" r="5" fill="rgba(0,0,0,0.08)"/>
<circle cx="1176.3" cy="184.7" r="5" fill="#ff1e0a"/>
<circle cx="1198.6" cy="244.4" r="5" fill="rgba(0,0,0,0.08)"/>
<circle cx="1197.1" cy="242.9" r="5" fill="#ff1e0a"/>
<circle cx="1219.5" cy="236.5" r="5" fill="rgba(0,0,0,0.08)"/>
<circle cx="1218.0" cy="235.0" r="5" fill="#ff1e0a"/>
<circle cx="1240.3" cy="237.5" r="5" fill="rgba(0,0,0,0.08)"/>
<circle cx="1238.8" cy="236.0" r="5" fill="#ff1e0a"/>
<circle cx="1261.2" cy="336.7" r="5" fill="rgba(0,0,0,0.08)"/>
<circle cx="1259.7" cy="335.2" r="5" fill="#ff1e0a"/>
<circle cx="1282.0" cy="295.5" r="5" fill="rgba(0,0,0,0.08)"/>
<circle cx="1280.5" cy="294.0" r="5" fill="#ff1e0a"/>
<circle cx="1302.8" cy="356.0" r="5" fill="rgba(0,0,0,0.08)"/>
<circle cx="1301.3" cy="354.5" r="5" fill="#ff1e0a"/>
<circle cx="1323.7" cy="244.0" r="5" fill="rgba(0,0,0,0.08)"/>
<circle cx="1322.2" cy="242.5" r="5" fill="#ff1e0a"/>
<circle cx="1344.5" cy="213.5" r="5" fill="rgba(0,0,0,0.08)"/>
<circle cx="1343.0" cy="212.0" r="5" fill="#ff1e0a"/>
<circle cx="1365.4" cy="203.8" r="5" fill="rgba(0,0,0,0.08)"/>
<circle cx="1363.9" cy="202.3" r="5" fill="#ff1e0a"/>
<circle cx="1386.2" cy="124.4" r="5" fill="rgba(0,0,0,0.08)"/>
<circle cx="1384.7" cy="122.9" r="5" fill="#ff1e0a"/>
<circle cx="1407.0" cy="190.7" r="5" fill="rgba(0,0,0,0.08)"/>
<circle cx="1405.5" cy="189.2" r="5" fill="#ff1e0a"/>
<circle cx="1427.9" cy="215.1" r="5" fill="rgba(0,0,0,0.08)"/>
<circle cx="1426.4" cy="213.6" r="5" fill="#ff1e0a"/>
<circle cx="1448.7" cy="240.8" r="5" fill="rgba(0,0,0,0.08)"/>
<circle cx="1447.2" cy="239.3" r="5" fill="#ff1e0a"/>
<circle cx="1469.6" cy="288.5" r="5" fill="rgba(0,0,0,0.08)"/>
<circle cx="1468.1" cy="287.0" r="5" fill="#ff1e0a"/>
<circle cx="1490.4" cy="290.2" r="5" fill="rgba(0,0,0,0.08)"/>
<circle cx="1488.9" cy="288.7" r="5" fill="#ff1e0a"/>
<circle cx="1511.2" cy="301.9" r="5" fill="rgba(0,0,0,0.08)"/>
<circle cx="1509.7" cy="300.4" r="5" fill="#ff1e0a"/>
<circle cx="1532.1" cy="276.8" r="5" fill="rgba(0,0,0,0.08)"/>
<circle cx="1530.6" cy="275.3" r="5" fill="#ff1e0a"/>
<circle cx="1552.9" cy="216.1" r="5" fill="rgba(0,0,0,0.08)"/>
<circle cx="1551.4" cy="214.6" r="5" fill="#ff1e0a"/>
<circle cx="1573.8" cy="243.7" r="5" fill="rgba(0,0,0,0.08)"/>
<circle cx="1572.3" cy="242.2" r="5" fill="#ff1e0a"/>
<circle cx="1594.6" cy="223.2" r="5" fill="rgba(0,0,0,0.08)"/>
<circle cx="1593.1" cy="221.7" r="5" fill="#ff1e0a"/>
<circle cx="1615.4" cy="307.0" r="5" fill="rgba(0,0,0,0.08)"/>
<circle cx="1613.9" cy="305.5" r="5" fill="#ff1e0a"/>
<circle cx="1636.3" cy="294.8" r="5" fill="rgba(0,0,0,0.08)"/>
<circle cx="1634.8" cy="293.3" r="5" fill="#ff1e0a"/>
<circle cx="1657.1" cy="343.8" r="5" fill="rgba(0,0,0,0.08)"/>
<circle cx="1655.6" cy="342.3" r="5" fill="#ff1e0a"/>
<circle cx="1678.0" cy="366.1" r="5" fill="rgba(0,0,0,0.08)"/>
<circle cx="1676.5" cy="364.6" r="5" fill="#ff1e0a"/>
<circle cx="1698.8" cy="247.9" r="5" fill="rgba(0,0,0,0.08)"/>
<circle cx="1697.3" cy="246.4" r="5" fill="#ff1e0a"/>
<circle cx="1719.6" cy="279.6" r="5" fill="rgba(0,0,0,0.08)"/>
<circle cx="1718.1" cy="278.1" r="5" fill="#ff1e0a"/>
<circle cx="1740.5" cy="238.4" r="5" fill="rgba(0,0,0,0.08)"/>
<circle cx="1739.0" cy="236.9" r="5" fill="#ff1e0a"/>
<circle cx="1761.3" cy="143.1" r="5" fill="rgba(0,0,0,0.08)"/>
<circle cx="1759.8" cy="141.6" r="5" fill="#ff1e0a"/>
<polyline points="655.3,261.4 676.1,252.5 697.0,256.1 717.8,237.4 738.7,266.7 759.5,240.2 780.3,236.7 801.2,307.0 822.0,375.8 842.9,390.0 863.7,390.0 884.5,349.4 905.4,281.0 926.2,300.0 947.1,297.0 967.9,254.3 988.7,261.4 1009.6,290.5 1030.4,295.5 1051.3,319.3 1072.1,330.5 1092.9,334.8 1113.8,335.8 1134.6,321.7 1155.5,323.5 1176.3,305.1 1197.1,285.2 1218.0,285.0 1238.8,300.8 1259.7,284.5 1280.5,290.0 1301.3,281.0 1322.2,248.5 1343.0,265.8 1363.9,265.1 1384.7,268.6 1405.5,274.6 1426.4,281.7 1447.2,273.5 1468.1,278.1 1488.9,248.1 1509.7,263.0 1530.6,272.8 1551.4,244.6 1572.3,289.8 1593.1,277.8 1613.9,279.2 1634.8,300.5 1655.6,272.8 1676.5,265.1 1697.3,265.8 1718.1,268.6 1739.0,341.0 1759.8,482.7" fill="none" stroke="#e9a528" stroke-width="4.5" stroke-linejoin="round"/>
<circle cx="656.8" cy="262.9" r="5" fill="rgba(0,0,0,0.08)"/>
<circle cx="655.3" cy="261.4" r="5" fill="#e9a528"/>
<circle cx="677.6" cy="254.0" r="5" fill="rgba(0,0,0,0.08)"/>
<circle cx="676.1" cy="252.5" r="5" fill="#e9a528"/>
<circle cx="698.5" cy="257.6" r="5" fill="rgba(0,0,0,0.08)"/>
<circle cx="697.0" cy="256.1" r="5" fill="#e9a528"/>
<circle cx="719.3" cy="238.9" r="5" fill="rgba(0,0,0,0.08)"/>
<circle cx="717.8" cy="237.4" r="5" fill="#e9a528"/>
<circle cx="740.2" cy="268.2" r="5" fill="rgba(0,0,0,0.08)"/>
<circle cx="738.7" cy="266.7" r="5" fill="#e9a528"/>
<circle cx="761.0" cy="241.7" r="5" fill="rgba(0,0,0,0.08)"/>
<circle cx="759.5" cy="240.2" r="5" fill="#e9a528"/>
<circle cx="781.8" cy="238.2" r="5" fill="rgba(0,0,0,0.08)"/>
<circle cx="780.3" cy="236.7" r="5" fill="#e9a528"/>
<circle cx="802.7" cy="308.5" r="5" fill="rgba(0,0,0,0.08)"/>
<circle cx="801.2" cy="307.0" r="5" fill="#e9a528"/>
<circle cx="823.5" cy="377.3" r="5" fill="rgba(0,0,0,0.08)"/>
<circle cx="822.0" cy="375.8" r="5" fill="#e9a528"/>
<circle cx="844.4" cy="391.5" r="5" fill="rgba(0,0,0,0.08)"/>
<circle cx="842.9" cy="390.0" r="5" fill="#e9a528"/>
<circle cx="865.2" cy="391.5" r="5" fill="rgba(0,0,0,0.08)"/>
<circle cx="863.7" cy="390.0" r="5" fill="#e9a528"/>
<circle cx="886.0" cy="350.9" r="5" fill="rgba(0,0,0,0.08)"/>
<circle cx="884.5" cy="349.4" r="5" fill="#e9a528"/>
<circle cx="906.9" cy="282.5" r="5" fill="rgba(0,0,0,0.08)"/>
<circle cx="905.4" cy="281.0" r="5" fill="#e9a528"/>
<circle cx="927.7" cy="301.5" r="5" fill="rgba(0,0,0,0.08)"/>
<circle cx="926.2" cy="300.0" r="5" fill="#e9a528"/>
<circle cx="948.6" cy="298.5" r="5" fill="rgba(0,0,0,0.08)"/>
<circle cx="947.1" cy="297.0" r="5" fill="#e9a528"/>
<circle cx="969.4" cy="255.8" r="5" fill="rgba(0,0,0,0.08)"/>
<circle cx="967.9" cy="254.3" r="5" fill="#e9a528"/>
<circle cx="990.2" cy="262.9" r="5" fill="rgba(0,0,0,0.08)"/>
<circle cx="988.7" cy="261.4" r="5" fill="#e9a528"/>
<circle cx="1011.1" cy="292.0" r="5" fill="rgba(0,0,0,0.08)"/>
<circle cx="1009.6" cy="290.5" r="5" fill="#e9a528"/>
<circle cx="1031.9" cy="297.0" r="5" fill="rgba(0,0,0,0.08)"/>
<circle cx="1030.4" cy="295.5" r="5" fill="#e9a528"/>
<circle cx="1052.8" cy="320.8" r="5" fill="rgba(0,0,0,0.08)"/>
<circle cx="1051.3" cy="319.3" r="5" fill="#e9a528"/>
<circle cx="1073.6" cy="332.0" r="5" fill="rgba(0,0,0,0.08)"/>
<circle cx="1072.1" cy="330.5" r="5" fill="#e9a528"/>
<circle cx="1094.4" cy="336.3" r="5" fill="rgba(0,0,0,0.08)"/>
<circle cx="1092.9" cy="334.8" r="5" fill="#e9a528"/>
<circle cx="1115.3" cy="337.3" r="5" fill="rgba(0,0,0,0.08)"/>
<circle cx="1113.8" cy="335.8" r="5" fill="#e9a528"/>
<circle cx="1136.1" cy="323.2" r="5" fill="rgba(0,0,0,0.08)"/>
<circle cx="1134.6" cy="321.7" r="5" fill="#e9a528"/>
<circle cx="1157.0" cy="325.0" r="5" fill="rgba(0,0,0,0.08)"/>
<circle cx="1155.5" cy="323.5" r="5" fill="#e9a528"/>
<circle cx="1177.8" cy="306.6" r="5" fill="rgba(0,0,0,0.08)"/>
<circle cx="1176.3" cy="305.1" r="5" fill="#e9a528"/>
<circle cx="1198.6" cy="286.7" r="5" fill="rgba(0,0,0,0.08)"/>
<circle cx="1197.1" cy="285.2" r="5" fill="#e9a528"/>
<circle cx="1219.5" cy="286.5" r="5" fill="rgba(0,0,0,0.08)"/>
<circle cx="1218.0" cy="285.0" r="5" fill="#e9a528"/>
<circle cx="1240.3" cy="302.3" r="5" fill="rgba(0,0,0,0.08)"/>
<circle cx="1238.8" cy="300.8" r="5" fill="#e9a528"/>
<circle cx="1261.2" cy="286.0" r="5" fill="rgba(0,0,0,0.08)"/>
<circle cx="1259.7" cy="284.5" r="5" fill="#e9a528"/>
<circle cx="1282.0" cy="291.5" r="5" fill="rgba(0,0,0,0.08)"/>
<circle cx="1280.5" cy="290.0" r="5" fill="#e9a528"/>
<circle cx="1302.8" cy="282.5" r="5" fill="rgba(0,0,0,0.08)"/>
<circle cx="1301.3" cy="281.0" r="5" fill="#e9a528"/>
<circle cx="1323.7" cy="250.0" r="5" fill="rgba(0,0,0,0.08)"/>
<circle cx="1322.2" cy="248.5" r="5" fill="#e9a528"/>
<circle cx="1344.5" cy="267.3" r="5" fill="rgba(0,0,0,0.08)"/>
<circle cx="1343.0" cy="265.8" r="5" fill="#e9a528"/>
<circle cx="1365.4" cy="266.6" r="5" fill="rgba(0,0,0,0.08)"/>
<circle cx="1363.9" cy="265.1" r="5" fill="#e9a528"/>
<circle cx="1386.2" cy="270.1" r="5" fill="rgba(0,0,0,0.08)"/>
<circle cx="1384.7" cy="268.6" r="5" fill="#e9a528"/>
<circle cx="1407.0" cy="276.1" r="5" fill="rgba(0,0,0,0.08)"/>
<circle cx="1405.5" cy="274.6" r="5" fill="#e9a528"/>
<circle cx="1427.9" cy="283.2" r="5" fill="rgba(0,0,0,0.08)"/>
<circle cx="1426.4" cy="281.7" r="5" fill="#e9a528"/>
<circle cx="1448.7" cy="275.0" r="5" fill="rgba(0,0,0,0.08)"/>
<circle cx="1447.2" cy="273.5" r="5" fill="#e9a528"/>
<circle cx="1469.6" cy="279.6" r="5" fill="rgba(0,0,0,0.08)"/>
<circle cx="1468.1" cy="278.1" r="5" fill="#e9a528"/>
<circle cx="1490.4" cy="249.6" r="5" fill="rgba(0,0,0,0.08)"/>
<circle cx="1488.9" cy="248.1" r="5" fill="#e9a528"/>
<circle cx="1511.2" cy="264.5" r="5" fill="rgba(0,0,0,0.08)"/>
<circle cx="1509.7" cy="263.0" r="5" fill="#e9a528"/>
<circle cx="1532.1" cy="274.3" r="5" fill="rgba(0,0,0,0.08)"/>
<circle cx="1530.6" cy="272.8" r="5" fill="#e9a528"/>
<circle cx="1552.9" cy="246.1" r="5" fill="rgba(0,0,0,0.08)"/>
<circle cx="1551.4" cy="244.6" r="5" fill="#e9a528"/>
<circle cx="1573.8" cy="291.3" r="5" fill="rgba(0,0,0,0.08)"/>
<circle cx="1572.3" cy="289.8" r="5" fill="#e9a528"/>
<circle cx="1594.6" cy="279.3" r="5" fill="rgba(0,0,0,0.08)"/>
<circle cx="1593.1" cy="277.8" r="5" fill="#e9a528"/>
<circle cx="1615.4" cy="280.7" r="5" fill="rgba(0,0,0,0.08)"/>
<circle cx="1613.9" cy="279.2" r="5" fill="#e9a528"/>
<circle cx="1636.3" cy="302.0" r="5" fill="rgba(0,0,0,0.08)"/>
<circle cx="1634.8" cy="300.5" r="5" fill="#e9a528"/>
<circle cx="1657.1" cy="274.3" r="5" fill="rgba(0,0,0,0.08)"/>
<circle cx="1655.6" cy="272.8" r="5" fill="#e9a528"/>
<circle cx="1678.0" cy="266.6" r="5" fill="rgba(0,0,0,0.08)"/>
<circle cx="1676.5" cy="265.1" r="5" fill="#e9a528"/>
<circle cx="1698.8" cy="267.3" r="5" fill="rgba(0,0,0,0.08)"/>
<circle cx="1697.3" cy="265.8" r="5" fill="#e9a528"/>
<circle cx="1719.6" cy="270.1" r="5" fill="rgba(0,0,0,0.08)"/>
<circle cx="1718.1" cy="268.6" r="5" fill="#e9a528"/>
<circle cx="1740.5" cy="342.5" r="5" fill="rgba(0,0,0,0.08)"/>
<circle cx="1739.0" cy="341.0" r="5" fill="#e9a528"/>
<circle cx="1761.3" cy="484.2" r="5" fill="rgba(0,0,0,0.08)"/>
<circle cx="1759.8" cy="482.7" r="5" fill="#e9a528"/>
<polyline points="655.3,243.0 676.1,250.1 697.0,272.0 717.8,278.3 738.7,277.2 759.5,266.7 780.3,273.7 801.2,288.9 822.0,337.0 842.9,345.1 863.7,360.7 884.5,360.7 905.4,444.7 926.2,466.8 947.1,455.0 967.9,427.5 988.7,422.3 1009.6,406.4 1030.4,436.4 1051.3,440.6 1072.1,425.1 1092.9,424.0 1113.8,412.4 1134.6,402.9 1155.5,434.6 1176.3,419.4 1197.1,399.3 1218.0,394.7 1238.8,330.3 1259.7,295.5 1280.5,296.7 1301.3,290.6 1322.2,241.2 1343.0,242.0 1363.9,246.4 1384.7,251.0 1405.5,238.6 1426.4,249.9 1447.2,245.3 1468.1,265.1 1488.9,255.2 1509.7,236.9 1530.6,242.2 1551.4,230.5 1572.3,233.3 1593.1,244.6 1613.9,237.6 1634.8,223.5 1655.6,194.5 1676.5,201.2 1697.3,243.9 1718.1,253.4 1739.0,341.6 1759.8,494.7" fill="none" stroke="#c8b883" stroke-width="4.5" stroke-linejoin="round"/>
<circle cx="656.8" cy="244.5" r="5" fill="rgba(0,0,0,0.08)"/>
<circle cx="655.3" cy="243.0" r="5" fill="#c8b883"/>
<circle cx="677.6" cy="251.6" r="5" fill="rgba(0,0,0,0.08)"/>
<circle cx="676.1" cy="250.1" r="5" fill="#c8b883"/>
<circle cx="698.5" cy="273.5" r="5" fill="rgba(0,0,0,0.08)"/>
<circle cx="697.0" cy="272.0" r="5" fill="#c8b883"/>
<circle cx="719.3" cy="279.8" r="5" fill="rgba(0,0,0,0.08)"/>
<circle cx="717.8" cy="278.3" r="5" fill="#c8b883"/>
<circle cx="740.2" cy="278.7" r="5" fill="rgba(0,0,0,0.08)"/>
<circle cx="738.7" cy="277.2" r="5" fill="#c8b883"/>
<circle cx="761.0" cy="268.2" r="5" fill="rgba(0,0,0,0.08)"/>
<circle cx="759.5" cy="266.7" r="5" fill="#c8b883"/>
<circle cx="781.8" cy="275.2" r="5" fill="rgba(0,0,0,0.08)"/>
<circle cx="780.3" cy="273.7" r="5" fill="#c8b883"/>
<circle cx="802.7" cy="290.4" r="5" fill="rgba(0,0,0,0.08)"/>
<circle cx="801.2" cy="288.9" r="5" fill="#c8b883"/>
<circle cx="823.5" cy="338.5" r="5" fill="rgba(0,0,0,0.08)"/>
<circle cx="822.0" cy="337.0" r="5" fill="#c8b883"/>
<circle cx="844.4" cy="346.6" r="5" fill="rgba(0,0,0,0.08)"/>
<circle cx="842.9" cy="345.1" r="5" fill="#c8b883"/>
<circle cx="865.2" cy="362.2" r="5" fill="rgba(0,0,0,0.08)"/>
<circle cx="863.7" cy="360.7" r="5" fill="#c8b883"/>
<circle cx="886.0" cy="362.2" r="5" fill="rgba(0,0,0,0.08)"/>
<circle cx="884.5" cy="360.7" r="5" fill="#c8b883"/>
<circle cx="906.9" cy="446.2" r="5" fill="rgba(0,0,0,0.08)"/>
<circle cx="905.4" cy="444.7" r="5" fill="#c8b883"/>
<circle cx="927.7" cy="468.3" r="5" fill="rgba(0,0,0,0.08)"/>
<circle cx="926.2" cy="466.8" r="5" fill="#c8b883"/>
<circle cx="948.6" cy="456.5" r="5" fill="rgba(0,0,0,0.08)"/>
<circle cx="947.1" cy="455.0" r="5" fill="#c8b883"/>
<circle cx="969.4" cy="429.0" r="5" fill="rgba(0,0,0,0.08)"/>
<circle cx="967.9" cy="427.5" r="5" fill="#c8b883"/>
<circle cx="990.2" cy="423.8" r="5" fill="rgba(0,0,0,0.08)"/>
<circle cx="988.7" cy="422.3" r="5" fill="#c8b883"/>
<circle cx="1011.1" cy="407.9" r="5" fill="rgba(0,0,0,0.08)"/>
<circle cx="1009.6" cy="406.4" r="5" fill="#c8b883"/>
<circle cx="1031.9" cy="437.9" r="5" fill="rgba(0,0,0,0.08)"/>
<circle cx="1030.4" cy="436.4" r="5" fill="#c8b883"/>
<circle cx="1052.8" cy="442.1" r="5" fill="rgba(0,0,0,0.08)"/>
<circle cx="1051.3" cy="440.6" r="5" fill="#c8b883"/>
<circle cx="1073.6" cy="426.6" r="5" fill="rgba(0,0,0,0.08)"/>
<circle cx="1072.1" cy="425.1" r="5" fill="#c8b883"/>
<circle cx="1094.4" cy="425.5" r="5" fill="rgba(0,0,0,0.08)"/>
<circle cx="1092.9" cy="424.0" r="5" fill="#c8b883"/>
<circle cx="1115.3" cy="413.9" r="5" fill="rgba(0,0,0,0.08)"/>
<circle cx="1113.8" cy="412.4" r="5" fill="#c8b883"/>
<circle cx="1136.1" cy="404.4" r="5" fill="rgba(0,0,0,0.08)"/>
<circle cx="1134.6" cy="402.9" r="5" fill="#c8b883"/>
<circle cx="1157.0" cy="436.1" r="5" fill="rgba(0,0,0,0.08)"/>
<circle cx="1155.5" cy="434.6" r="5" fill="#c8b883"/>
<circle cx="1177.8" cy="420.9" r="5" fill="rgba(0,0,0,0.08)"/>
<circle cx="1176.3" cy="419.4" r="5" fill="#c8b883"/>
<circle cx="1198.6" cy="400.8" r="5" fill="rgba(0,0,0,0.08)"/>
<circle cx="1197.1" cy="399.3" r="5" fill="#c8b883"/>
<circle cx="1219.5" cy="396.2" r="5" fill="rgba(0,0,0,0.08)"/>
<circle cx="1218.0" cy="394.7" r="5" fill="#c8b883"/>
<circle cx="1240.3" cy="331.8" r="5" fill="rgba(0,0,0,0.08)"/>
<circle cx="1238.8" cy="330.3" r="5" fill="#c8b883"/>
<circle cx="1261.2" cy="297.0" r="5" fill="rgba(0,0,0,0.08)"/>
<circle cx="1259.7" cy="295.5" r="5" fill="#c8b883"/>
<circle cx="1282.0" cy="298.2" r="5" fill="rgba(0,0,0,0.08)"/>
<circle cx="1280.5" cy="296.7" r="5" fill="#c8b883"/>
<circle cx="1302.8" cy="292.1" r="5" fill="rgba(0,0,0,0.08)"/>
<circle cx="1301.3" cy="290.6" r="5" fill="#c8b883"/>
<circle cx="1323.7" cy="242.7" r="5" fill="rgba(0,0,0,0.08)"/>
<circle cx="1322.2" cy="241.2" r="5" fill="#c8b883"/>
<circle cx="1344.5" cy="243.5" r="5" fill="rgba(0,0,0,0.08)"/>
<circle cx="1343.0" cy="242.0" r="5" fill="#c8b883"/>
<circle cx="1365.4" cy="247.9" r="5" fill="rgba(0,0,0,0.08)"/>
<circle cx="1363.9" cy="246.4" r="5" fill="#c8b883"/>
<circle cx="1386.2" cy="252.5" r="5" fill="rgba(0,0,0,0.08)"/>
<circle cx="1384.7" cy="251.0" r="5" fill="#c8b883"/>
<circle cx="1407.0" cy="240.1" r="5" fill="rgba(0,0,0,0.08)"/>
<circle cx="1405.5" cy="238.6" r="5" fill="#c8b883"/>
<circle cx="1427.9" cy="251.4" r="5" fill="rgba(0,0,0,0.08)"/>
<circle cx="1426.4" cy="249.9" r="5" fill="#c8b883"/>
<circle cx="1448.7" cy="246.8" r="5" fill="rgba(0,0,0,0.08)"/>
<circle cx="1447.2" cy="245.3" r="5" fill="#c8b883"/>
<circle cx="1469.6" cy="266.6" r="5" fill="rgba(0,0,0,0.08)"/>
<circle cx="1468.1" cy="265.1" r="5" fill="#c8b883"/>
<circle cx="1490.4" cy="256.7" r="5" fill="rgba(0,0,0,0.08)"/>
<circle cx="1488.9" cy="255.2" r="5" fill="#c8b883"/>
<circle cx="1511.2" cy="238.4" r="5" fill="rgba(0,0,0,0.08)"/>
<circle cx="1509.7" cy="236.9" r="5" fill="#c8b883"/>
<circle cx="1532.1" cy="243.7" r="5" fill="rgba(0,0,0,0.08)"/>
<circle cx="1530.6" cy="242.2" r="5" fill="#c8b883"/>
<circle cx="1552.9" cy="232.0" r="5" fill="rgba(0,0,0,0.08)"/>
<circle cx="1551.4" cy="230.5" r="5" fill="#c8b883"/>
<circle cx="1573.8" cy="234.8" r="5" fill="rgba(0,0,0,0.08)"/>
<circle cx="1572.3" cy="233.3" r="5" fill="#c8b883"/>
<circle cx="1594.6" cy="246.1" r="5" fill="rgba(0,0,0,0.08)"/>
<circle cx="1593.1" cy="244.6" r="5" fill="#c8b883"/>
<circle cx="1615.4" cy="239.1" r="5" fill="rgba(0,0,0,0.08)"/>
<circle cx="1613.9" cy="237.6" r="5" fill="#c8b883"/>
<circle cx="1636.3" cy="225.0" r="5" fill="rgba(0,0,0,0.08)"/>
<circle cx="1634.8" cy="223.5" r="5" fill="#c8b883"/>
<circle cx="1657.1" cy="196.0" r="5" fill="rgba(0,0,0,0.08)"/>
<circle cx="1655.6" cy="194.5" r="5" fill="#c8b883"/>
<circle cx="1678.0" cy="202.7" r="5" fill="rgba(0,0,0,0.08)"/>
<circle cx="1676.5" cy="201.2" r="5" fill="#c8b883"/>
<circle cx="1698.8" cy="245.4" r="5" fill="rgba(0,0,0,0.08)"/>
<circle cx="1697.3" cy="243.9" r="5" fill="#c8b883"/>
<circle cx="1719.6" cy="254.9" r="5" fill="rgba(0,0,0,0.08)"/>
<circle cx="1718.1" cy="253.4" r="5" fill="#c8b883"/>
<circle cx="1740.5" cy="343.1" r="5" fill="rgba(0,0,0,0.08)"/>
<circle cx="1739.0" cy="341.6" r="5" fill="#c8b883"/>
<circle cx="1761.3" cy="496.2" r="5" fill="rgba(0,0,0,0.08)"/>
<circle cx="1759.8" cy="494.7" r="5" fill="#c8b883"/>
<polyline points="655.3,214.8 676.1,224.3 697.0,216.6 717.8,210.2 738.7,223.6 759.5,223.6 780.3,243.7 801.2,256.8 822.0,284.3 842.9,283.3 863.7,287.1 884.5,288.8 905.4,290.9 926.2,297.0 947.1,302.0 967.9,289.8 988.7,284.5 1009.6,281.0 1030.4,281.7 1051.3,285.8 1072.1,295.4 1092.9,304.1 1113.8,307.5 1134.6,330.0 1155.5,311.9 1176.3,311.9 1197.1,302.0 1218.0,289.6 1238.8,292.3 1259.7,286.6 1280.5,284.8 1301.3,276.8 1322.2,265.6 1343.0,267.5 1363.9,259.2 1384.7,264.0 1405.5,264.0 1426.4,266.5 1447.2,266.5 1468.1,272.1 1488.9,268.6 1509.7,256.3 1530.6,258.7 1551.4,261.6 1572.3,261.4 1593.1,271.8 1613.9,270.4 1634.8,258.0 1655.6,262.3 1676.5,258.7 1697.3,267.5 1718.1,262.3 1739.0,301.5 1759.8,463.3" fill="none" stroke="#0006f2" stroke-width="4.5" stroke-linejoin="round"/>
<circle cx="656.8" cy="216.3" r="5" fill="rgba(0,0,0,0.08)"/>
<circle cx="655.3" cy="214.8" r="5" fill="#0006f2"/>
<circle cx="677.6" cy="225.8" r="5" fill="rgba(0,0,0,0.08)"/>
<circle cx="676.1" cy="224.3" r="5" fill="#0006f2"/>
<circle cx="698.5" cy="218.1" r="5" fill="rgba(0,0,0,0.08)"/>
<circle cx="697.0" cy="216.6" r="5" fill="#0006f2"/>
<circle cx="719.3" cy="211.7" r="5" fill="rgba(0,0,0,0.08)"/>
<circle cx="717.8" cy="210.2" r="5" fill="#0006f2"/>
<circle cx="740.2" cy="225.1" r="5" fill="rgba(0,0,0,0.08)"/>
<circle cx="738.7" cy="223.6" r="5" fill="#0006f2"/>
<circle cx="761.0" cy="225.1" r="5" fill="rgba(0,0,0,0.08)"/>
<circle cx="759.5" cy="223.6" r="5" fill="#0006f2"/>
<circle cx="781.8" cy="245.2" r="5" fill="rgba(0,0,0,0.08)"/>
<circle cx="780.3" cy="243.7" r="5" fill="#0006f2"/>
<circle cx="802.7" cy="258.3" r="5" fill="rgba(0,0,0,0.08)"/>
<circle cx="801.2" cy="256.8" r="5" fill="#0006f2"/>
<circle cx="823.5" cy="285.8" r="5" fill="rgba(0,0,0,0.08)"/>
<circle cx="822.0" cy="284.3" r="5" fill="#0006f2"/>
<circle cx="844.4" cy="284.8" r="5" fill="rgba(0,0,0,0.08)"/>
<circle cx="842.9" cy="283.3" r="5" fill="#0006f2"/>
<circle cx="865.2" cy="288.6" r="5" fill="rgba(0,0,0,0.08)"/>
<circle cx="863.7" cy="287.1" r="5" fill="#0006f2"/>
<circle cx="886.0" cy="290.3" r="5" fill="rgba(0,0,0,0.08)"/>
<circle cx="884.5" cy="288.8" r="5" fill="#0006f2"/>
<circle cx="906.9" cy="292.4" r="5" fill="rgba(0,0,0,0.08)"/>
<circle cx="905.4" cy="290.9" r="5" fill="#0006f2"/>
<circle cx="927.7" cy="298.5" r="5" fill="rgba(0,0,0,0.08)"/>
<circle cx="926.2" cy="297.0" r="5" fill="#0006f2"/>
<circle cx="948.6" cy="303.5" r="5" fill="rgba(0,0,0,0.08)"/>
<circle cx="947.1" cy="302.0" r="5" fill="#0006f2"/>
<circle cx="969.4" cy="291.3" r="5" fill="rgba(0,0,0,0.08)"/>
<circle cx="967.9" cy="289.8" r="5" fill="#0006f2"/>
<circle cx="990.2" cy="286.0" r="5" fill="rgba(0,0,0,0.08)"/>
<circle cx="988.7" cy="284.5" r="5" fill="#0006f2"/>
<circle cx="1011.1" cy="282.5" r="5" fill="rgba(0,0,0,0.08)"/>
<circle cx="1009.6" cy="281.0" r="5" fill="#0006f2"/>
<circle cx="1031.9" cy="283.2" r="5" fill="rgba(0,0,0,0.08)"/>
<circle cx="1030.4" cy="281.7" r="5" fill="#0006f2"/>
<circle cx="1052.8" cy="287.3" r="5" fill="rgba(0,0,0,0.08)"/>
<circle cx="1051.3" cy="285.8" r="5" fill="#0006f2"/>
<circle cx="1073.6" cy="296.9" r="5" fill="rgba(0,0,0,0.08)"/>
<circle cx="1072.1" cy="295.4" r="5" fill="#0006f2"/>
<circle cx="1094.4" cy="305.6" r="5" fill="rgba(0,0,0,0.08)"/>
<circle cx="1092.9" cy="304.1" r="5" fill="#0006f2"/>
<circle cx="1115.3" cy="309.0" r="5" fill="rgba(0,0,0,0.08)"/>
<circle cx="1113.8" cy="307.5" r="5" fill="#0006f2"/>
<circle cx="1136.1" cy="331.5" r="5" fill="rgba(0,0,0,0.08)"/>
<circle cx="1134.6" cy="330.0" r="5" fill="#0006f2"/>
<circle cx="1157.0" cy="313.4" r="5" fill="rgba(0,0,0,0.08)"/>
<circle cx="1155.5" cy="311.9" r="5" fill="#0006f2"/>
<circle cx="1177.8" cy="313.4" r="5" fill="rgba(0,0,0,0.08)"/>
<circle cx="1176.3" cy="311.9" r="5" fill="#0006f2"/>
<circle cx="1198.6" cy="303.5" r="5" fill="rgba(0,0,0,0.08)"/>
<circle cx="1197.1" cy="302.0" r="5" fill="#0006f2"/>
<circle cx="1219.5" cy="291.1" r="5" fill="rgba(0,0,0,0.08)"/>
<circle cx="1218.0" cy="289.6" r="5" fill="#0006f2"/>
<circle cx="1240.3" cy="293.8" r="5" fill="rgba(0,0,0,0.08)"/>
<circle cx="1238.8" cy="292.3" r="5" fill="#0006f2"/>
<circle cx="1261.2" cy="288.1" r="5" fill="rgba(0,0,0,0.08)"/>
<circle cx="1259.7" cy="286.6" r="5" fill="#0006f2"/>
<circle cx="1282.0" cy="286.3" r="5" fill="rgba(0,0,0,0.08)"/>
<circle cx="1280.5" cy="284.8" r="5" fill="#0006f2"/>
<circle cx="1302.8" cy="278.3" r="5" fill="rgba(0,0,0,0.08)"/>
<circle cx="1301.3" cy="276.8" r="5" fill="#0006f2"/>
<circle cx="1323.7" cy="267.1" r="5" fill="rgba(0,0,0,0.08)"/>
<circle cx="1322.2" cy="265.6" r="5" fill="#0006f2"/>
<circle cx="1344.5" cy="269.0" r="5" fill="rgba(0,0,0,0.08)"/>
<circle cx="1343.0" cy="267.5" r="5" fill="#0006f2"/>
<circle cx="1365.4" cy="260.7" r="5" fill="rgba(0,0,0,0.08)"/>
<circle cx="1363.9" cy="259.2" r="5" fill="#0006f2"/>
<circle cx="1386.2" cy="265.5" r="5" fill="rgba(0,0,0,0.08)"/>
<circle cx="1384.7" cy="264.0" r="5" fill="#0006f2"/>
<circle cx="1407.0" cy="265.5" r="5" fill="rgba(0,0,0,0.08)"/>
<circle cx="1405.5" cy="264.0" r="5" fill="#0006f2"/>
<circle cx="1427.9" cy="268.0" r="5" fill="rgba(0,0,0,0.08)"/>
<circle cx="1426.4" cy="266.5" r="5" fill="#0006f2"/>
<circle cx="1448.7" cy="268.0" r="5" fill="rgba(0,0,0,0.08)"/>
<circle cx="1447.2" cy="266.5" r="5" fill="#0006f2"/>
<circle cx="1469.6" cy="273.6" r="5" fill="rgba(0,0,0,0.08)"/>
<circle cx="1468.1" cy="272.1" r="5" fill="#0006f2"/>
<circle cx="1490.4" cy="270.1" r="5" fill="rgba(0,0,0,0.08)"/>
<circle cx="1488.9" cy="268.6" r="5" fill="#0006f2"/>
<circle cx="1511.2" cy="257.8" r="5" fill="rgba(0,0,0,0.08)"/>
<circle cx="1509.7" cy="256.3" r="5" fill="#0006f2"/>
<circle cx="1532.1" cy="260.2" r="5" fill="rgba(0,0,0,0.08)"/>
<circle cx="1530.6" cy="258.7" r="5" fill="#0006f2"/>
<circle cx="1552.9" cy="263.1" r="5" fill="rgba(0,0,0,0.08)"/>
<circle cx="1551.4" cy="261.6" r="5" fill="#0006f2"/>
<circle cx="1573.8" cy="262.9" r="5" fill="rgba(0,0,0,0.08)"/>
<circle cx="1572.3" cy="261.4" r="5" fill="#0006f2"/>
<circle cx="1594.6" cy="273.3" r="5" fill="rgba(0,0,0,0.08)"/>
<circle cx="1593.1" cy="271.8" r="5" fill="#0006f2"/>
<circle cx="1615.4" cy="271.9" r="5" fill="rgba(0,0,0,0.08)"/>
<circle cx="1613.9" cy="270.4" r="5" fill="#0006f2"/>
<circle cx="1636.3" cy="259.5" r="5" fill="rgba(0,0,0,0.08)"/>
<circle cx="1634.8" cy="258.0" r="5" fill="#0006f2"/>
<circle cx="1657.1" cy="263.8" r="5" fill="rgba(0,0,0,0.08)"/>
<circle cx="1655.6" cy="262.3" r="5" fill="#0006f2"/>
<circle cx="1678.0" cy="260.2" r="5" fill="rgba(0,0,0,0.08)"/>
<circle cx="1676.5" cy="258.7" r="5" fill="#0006f2"/>
<circle cx="1698.8" cy="269.0" r="5" fill="rgba(0,0,0,0.08)"/>
<circle cx="1697.3" cy="267.5" r="5" fill="#0006f2"/>
<circle cx="1719.6" cy="263.8" r="5" fill="rgba(0,0,0,0.08)"/>
<circle cx="1718.1" cy="262.3" r="5" fill="#0006f2"/>
<circle cx="1740.5" cy="303.0" r="5" fill="rgba(0,0,0,0.08)"/>
<circle cx="1739.0" cy="301.5" r="5" fill="#0006f2"/>
<circle cx="1761.3" cy="464.8" r="5" fill="rgba(0,0,0,0.08)"/>
<circle cx="1759.8" cy="463.3" r="5" fill="#0006f2"/>
<text x="650.9" y="546.2" transform="rotate(45 650.9 546.2)" font-size="21.5" fill="#5c5c5c">2007T1</text>
<text x="692.6" y="546.2" transform="rotate(45 692.6 546.2)" font-size="21.5" fill="#5c5c5c">2007T3</text>
<text x="734.3" y="546.2" transform="rotate(45 734.3 546.2)" font-size="21.5" fill="#5c5c5c">2008T1</text>
<text x="775.9" y="546.2" transform="rotate(45 775.9 546.2)" font-size="21.5" fill="#5c5c5c">2008T3</text>
<text x="817.6" y="546.2" transform="rotate(45 817.6 546.2)" font-size="21.5" fill="#5c5c5c">2009T1</text>
<text x="859.3" y="546.2" transform="rotate(45 859.3 546.2)" font-size="21.5" fill="#5c5c5c">2009T3</text>
<text x="901.0" y="546.2" transform="rotate(45 901.0 546.2)" font-size="21.5" fill="#5c5c5c">2010T1</text>
<text x="942.7" y="546.2" transform="rotate(45 942.7 546.2)" font-size="21.5" fill="#5c5c5c">2010T3</text>
<text x="984.3" y="546.2" transform="rotate(45 984.3 546.2)" font-size="21.5" fill="#5c5c5c">2011T1</text>
<text x="1026.0" y="546.2" transform="rotate(45 1026.0 546.2)" font-size="21.5" fill="#5c5c5c">2011T3</text>
<text x="1067.7" y="546.2" transform="rotate(45 1067.7 546.2)" font-size="21.5" fill="#5c5c5c">2012T1</text>
<text x="1109.4" y="546.2" transform="rotate(45 1109.4 546.2)" font-size="21.5" fill="#5c5c5c">2012T3</text>
<text x="1151.1" y="546.2" transform="rotate(45 1151.1 546.2)" font-size="21.5" fill="#5c5c5c">2013T1</text>
<text x="1192.7" y="546.2" transform="rotate(45 1192.7 546.2)" font-size="21.5" fill="#5c5c5c">2013T3</text>
<text x="1234.4" y="546.2" transform="rotate(45 1234.4 546.2)" font-size="21.5" fill="#5c5c5c">2014T1</text>
<text x="1276.1" y="546.2" transform="rotate(45 1276.1 546.2)" font-size="21.5" fill="#5c5c5c">2014T3</text>
<text x="1317.8" y="546.2" transform="rotate(45 1317.8 546.2)" font-size="21.5" fill="#5c5c5c">2015T1</text>
<text x="1359.5" y="546.2" transform="rotate(45 1359.5 546.2)" font-size="21.5" fill="#5c5c5c">2015T3</text>
<text x="1401.1" y="546.2" transform="rotate(45 1401.1 546.2)" font-size="21.5" fill="#5c5c5c">2016T1</text>
<text x="1442.8" y="546.2" transform="rotate(45 1442.8 546.2)" font-size="21.5" fill="#5c5c5c">2016T3</text>
<text x="1484.5" y="546.2" transform="rotate(45 1484.5 546.2)" font-size="21.5" fill="#5c5c5c">2017T1</text>
<text x="1526.2" y="546.2" transform="rotate(45 1526.2 546.2)" font-size="21.5" fill="#5c5c5c">2017T3</text>
<text x="1567.9" y="546.2" transform="rotate(45 1567.9 546.2)" font-size="21.5" fill="#5c5c5c">2018T1</text>
<text x="1609.5" y="546.2" transform="rotate(45 1609.5 546.2)" font-size="21.5" fill="#5c5c5c">2018T3</text>
<text x="1651.2" y="546.2" transform="rotate(45 1651.2 546.2)" font-size="21.5" fill="#5c5c5c">2019T1</text>
<text x="1692.9" y="546.2" transform="rotate(45 1692.9 546.2)" font-size="21.5" fill="#5c5c5c">2019T3</text>
<text x="1734.6" y="546.2" transform="rotate(45 1734.6 546.2)" font-size="21.5" fill="#5c5c5c">2020T1</text>
</svg>
</body></html>
